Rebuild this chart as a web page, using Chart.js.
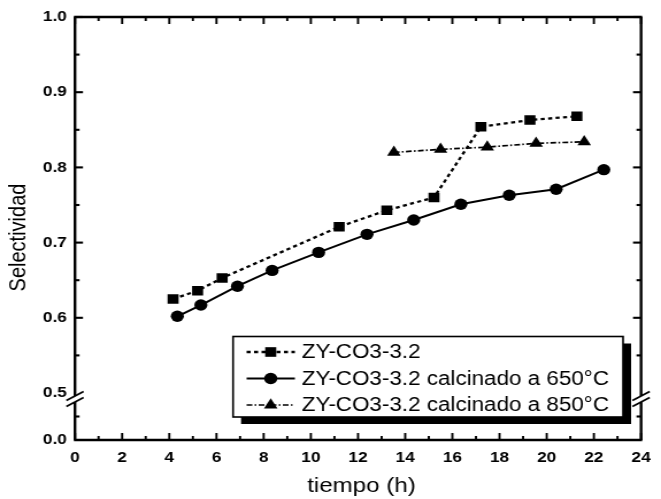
<!DOCTYPE html>
<html>
<head>
<meta charset="utf-8">
<script src="https://cdn.jsdelivr.net/npm/chart.js@4.4.1/dist/chart.umd.min.js"></script>
<style>
  html, body { margin: 0; padding: 0; background: #fff; overflow: hidden; width: 661px; height: 499px; }
  /* the figure is drawn on a narrower canvas and widened, giving the broad lettering of the plot */
  #wrap { width: 575px; height: 499px; transform: scaleX(1.14957); transform-origin: 0 0; }
  canvas { display: block; }
</style>
</head>
<body>
<div id="wrap"><canvas id="c" width="575" height="499"></canvas></div>
<script>
// ---- data ----
const seriesLabels = [
  'ZY-CO3-3.2',
  'ZY-CO3-3.2 calcinado a 650°C',
  'ZY-CO3-3.2 calcinado a 850°C'
];
const tiempoA = [4.16, 5.20, 6.24, 11.20, 13.22, 15.22, 17.21, 19.29, 21.28];
const selecA  = [0.625, 0.636, 0.653, 0.721, 0.743, 0.760, 0.854, 0.863, 0.868];
const tiempoB = [4.34, 5.34, 6.89, 8.36, 10.33, 12.38, 14.36, 16.36, 18.41, 20.40, 22.42];
const selecB  = [0.602, 0.617, 0.642, 0.663, 0.687, 0.711, 0.730, 0.751, 0.763, 0.771, 0.797];
const tiempoC = [13.52, 15.50, 17.48, 19.55, 21.59];
const selecC  = [0.820, 0.824, 0.827, 0.832, 0.834];

const xTickValues = [0, 2, 4, 6, 8, 10, 12, 14, 16, 18, 20, 22, 24];
const xMinorValues = [1, 3, 5, 7, 9, 11, 13, 15, 17, 19, 21, 23];
const yTickValues = [0.0, 0.5, 0.6, 0.7, 0.8, 0.9, 1.0];
const yTickLabels = ['0.0', '0.5', '0.6', '0.7', '0.8', '0.9', '1.0'];
const yMinorValues = [0.25, 0.55, 0.65, 0.75, 0.85, 0.95];
const xTitle = 'tiempo (h)';
const yTitle = 'Selectividad';

// broken y axis: the range 0 - 0.5 is compressed below the break
const yBreak = 0.5;
const yCompress = 0.125;
const toAxis = v => (v >= yBreak ? v : yBreak - (yBreak - v) * yCompress);

const pts = (xs, ys) => xs.map((t, i) => ({ x: t, y: toAxis(ys[i]) }));

const FONT = '"Liberation Sans", Arial, Helvetica, sans-serif';
Chart.defaults.font.family = FONT;
Chart.defaults.color = '#000';

const datasets = [
  { label: seriesLabels[0], data: pts(tiempoA, selecA), borderColor: '#000', backgroundColor: '#000',
    borderWidth: 2.3, borderDash: [3.5, 3], pointStyle: 'rect', pointRadius: 6.8, pointBorderWidth: 0 },
  { label: seriesLabels[1], data: pts(tiempoB, selecB), borderColor: '#000', backgroundColor: '#000',
    borderWidth: 2, borderDash: [], pointStyle: 'circle', pointRadius: 5.7, pointBorderWidth: 0 },
  { label: seriesLabels[2], data: pts(tiempoC, selecC), borderColor: '#000', backgroundColor: '#000',
    borderWidth: 1.7, borderDash: [5, 2, 1.5, 2], pointStyle: 'triangle', pointRadius: 6.8, pointBorderWidth: 0 }
];

// frame, inward ticks, axis break, axis titles and the boxed legend
const decor = {
  id: 'decor',
  afterDraw(chart) {
    const { ctx, chartArea: a, scales: { x, y } } = chart;
    const seg = (x1, y1, x2, y2) => { ctx.beginPath(); ctx.moveTo(x1, y1); ctx.lineTo(x2, y2); ctx.stroke(); };
    ctx.save();
    ctx.strokeStyle = '#000';
    ctx.fillStyle = '#000';
    ctx.lineCap = 'butt';

    // x ticks (bottom and top)
    ctx.lineWidth = 1.9;
    xTickValues.forEach(v => {
      const p = x.getPixelForValue(v);
      seg(p, a.bottom, p, a.bottom - 7);
      seg(p, a.top, p, a.top + 7);
    });
    xMinorValues.forEach(v => {
      const p = x.getPixelForValue(v);
      seg(p, a.bottom, p, a.bottom - 4);
      seg(p, a.top, p, a.top + 4);
    });
    // y ticks (left and right)
    ctx.lineWidth = 2.1;
    yTickValues.forEach(v => {
      if (v <= yBreak) return;
      const p = y.getPixelForValue(toAxis(v));
      seg(a.left, p, a.left + 7, p);
      seg(a.right, p, a.right - 7, p);
    });
    yMinorValues.forEach(v => {
      const p = y.getPixelForValue(toAxis(v));
      seg(a.left, p, a.left + 4, p);
      seg(a.right, p, a.right - 4, p);
    });

    // frame with a gap for the break
    const pb = y.getPixelForValue(toAxis(yBreak));
    const b1 = pb + 3, b2 = pb + 9;
    ctx.lineWidth = 2.6;
    seg(a.left - 1, a.top, a.right + 1, a.top);
    seg(a.left - 1, a.bottom, a.right + 1, a.bottom);
    [a.left, a.right].forEach(ax => {
      ctx.lineWidth = 2.4;
      seg(ax, a.top, ax, b1);
      seg(ax, b2, ax, a.bottom);
      ctx.lineWidth = 1.7;
      seg(ax - 7.5, b1 + 4.5, ax + 7.5, b1 - 4.5);
      seg(ax - 7.5, b2 + 4.5, ax + 7.5, b2 - 4.5);
    });

    // axis titles
    ctx.font = '21px ' + FONT;
    ctx.textAlign = 'center';
    ctx.textBaseline = 'alphabetic';
    ctx.fillText(xTitle, (a.left + a.right) / 2 + 3, 491.5);
    ctx.save();
    ctx.translate(22, 237.5);
    ctx.rotate(-Math.PI / 2);
    ctx.font = '20px ' + FONT;
    ctx.fillText(yTitle, 0, 0);
    ctx.restore();

    // legend box with drop shadow
    const L = 202.7, T = 336.5, R = 542, B = 417;
    ctx.fillRect(L + 7, T + 7, R - L, B - T);
    ctx.fillStyle = '#fff';
    ctx.fillRect(L, T, R - L, B - T);
    ctx.lineWidth = 1.6;
    ctx.strokeRect(L, T, R - L, B - T);
    ctx.fillStyle = '#000';
    const rows = [352, 378.5, 405];
    chart.data.datasets.forEach((ds, i) => {
      const yy = rows[i];
      ctx.save();
      ctx.lineWidth = ds.borderWidth;
      ctx.setLineDash(ds.borderDash || []);
      seg(214.5, yy, 256.5, yy);
      ctx.restore();
      Chart.helpers.drawPoint(ctx, { pointStyle: ds.pointStyle, radius: ds.pointRadius, rotation: 0, borderWidth: 0 }, 235.5, yy);
      ctx.font = '19.5px ' + FONT;
      ctx.textAlign = 'left';
      ctx.textBaseline = 'middle';
      ctx.fillText(ds.label, 262.5, yy + 1);
    });
    ctx.restore();
  }
};

new Chart(document.getElementById('c'), {
  type: 'line',
  data: { datasets },
  options: {
    responsive: false,
    animation: false,
    devicePixelRatio: 1,
    layout: { padding: { top: 17, right: 7.8, left: 0, bottom: 0 } },
    plugins: { legend: { display: false }, tooltip: { enabled: false } },
    scales: {
      x: {
        type: 'linear', min: 0, max: 24,
        grid: { display: false, drawTicks: false },
        border: { display: false },
        afterBuildTicks: s => { s.ticks = xTickValues.map(v => ({ value: v })); },
        afterFit: s => { s.height = 59; },
        ticks: { padding: 9, maxRotation: 0, autoSkip: false, color: '#000',
                 font: { size: 15, weight: 'bold' }, callback: v => String(v) }
      },
      y: {
        type: 'linear', min: toAxis(0), max: 1.0,
        grid: { display: false, drawTicks: false },
        border: { display: false },
        afterBuildTicks: s => { s.ticks = yTickValues.map(v => ({ value: toAxis(v) })); },
        afterFit: s => { s.width = 65.2; },
        ticks: { padding: 7, autoSkip: false, color: '#000',
                 font: { size: 15, weight: 'bold' }, callback: (v, i) => yTickLabels[i] }
      }
    }
  },
  plugins: [decor]
});
</script>
</body>
</html>
